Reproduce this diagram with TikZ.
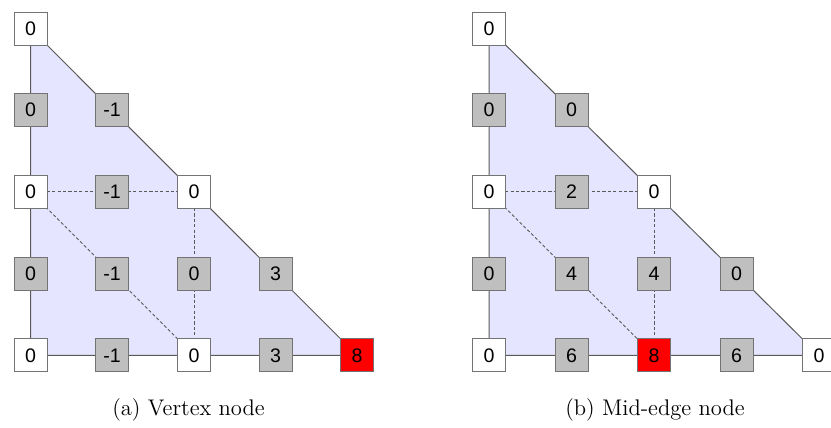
\documentclass[tikz,border=0pt]{standalone}
\usepackage{fontspec}
\newfontfamily\digitfont{Liberation Sans}
\usetikzlibrary{backgrounds}
\tikzset{
  cell/.style={rectangle, draw=black!55, line width=0.45pt, minimum size=16.5pt,
    inner sep=0pt, font=\digitfont\fontsize{9.8}{11}\selectfont},
  vnode/.style={cell, fill=white},
  gnode/.style={cell, fill=black!25},
  rnode/.style={cell, fill=red},
  elem/.style={fill=blue!10, draw=black!65, line width=0.5pt, line join=round},
  inner/.style={draw=black!65, line width=0.45pt, dash pattern=on 1.6pt off 1.1pt},
  caption/.style={font=\fontsize{11.3}{13}\selectfont}
}
\begin{document}
\begin{tikzpicture}[x=0.5pt, y=-0.5pt]
\useasboundingbox (0,0) rectangle (831,428);

% ---------- (a) vertex node ----------
\def\xa{30.5}\def\xb{112}\def\xc{194}\def\xd{275.5}\def\xe{357}
\def\ya{28.5}\def\yb{110}\def\yc{191.7}\def\yd{273.5}\def\ye{355.3}
\node[vnode] (a00) at (\xa,\ya) {0};
\node[gnode] (a10) at (\xa,\yb) {0};
\node[gnode] (a11) at (\xb,\yb) {-1};
\node[vnode] (a20) at (\xa,\yc) {0};
\node[gnode] (a21) at (\xb,\yc) {-1};
\node[vnode] (a22) at (\xc,\yc) {0};
\node[gnode] (a30) at (\xa,\yd) {0};
\node[gnode] (a31) at (\xb,\yd) {-1};
\node[gnode] (a32) at (\xc,\yd) {0};
\node[gnode] (a33) at (\xd,\yd) {3};
\node[vnode] (a40) at (\xa,\ye) {0};
\node[gnode] (a41) at (\xb,\ye) {-1};
\node[vnode] (a42) at (\xc,\ye) {0};
\node[gnode] (a43) at (\xd,\ye) {3};
\node[rnode] (a44) at (\xe,\ye) {8};

% ---------- (b) mid-edge node ----------
\def\xa{489}\def\xb{571.5}\def\xc{654}\def\xd{736.5}\def\xe{819}
\node[vnode] (b00) at (\xa,\ya) {0};
\node[gnode] (b10) at (\xa,\yb) {0};
\node[gnode] (b11) at (\xb,\yb) {0};
\node[vnode] (b20) at (\xa,\yc) {0};
\node[gnode] (b21) at (\xb,\yc) {2};
\node[vnode] (b22) at (\xc,\yc) {0};
\node[gnode] (b30) at (\xa,\yd) {0};
\node[gnode] (b31) at (\xb,\yd) {4};
\node[gnode] (b32) at (\xc,\yd) {4};
\node[gnode] (b33) at (\xd,\yd) {0};
\node[vnode] (b40) at (\xa,\ye) {0};
\node[gnode] (b41) at (\xb,\ye) {6};
\node[rnode] (b42) at (\xc,\ye) {8};
\node[gnode] (b43) at (\xd,\ye) {6};
\node[vnode] (b44) at (\xe,\ye) {0};

% element triangles and their subdivision, behind the nodes
\begin{pgfonlayer}{background}
  \foreach \p in {a,b}{
    \draw[elem] (\p00.center) -- (\p40.center) -- (\p44.center) -- cycle;
    \draw[inner] (\p20.center) -- (\p22.center);
    \draw[inner] (\p20.center) -- (\p42.center);
    \draw[inner] (\p22.center) -- (\p42.center);
  }
\end{pgfonlayer}

% captions
\node[caption] (capa) at (188.5,410) {(a) Vertex node};
\node[caption] (capb) at (655,410) {(b) Mid-edge node};
\end{tikzpicture}
\end{document}
